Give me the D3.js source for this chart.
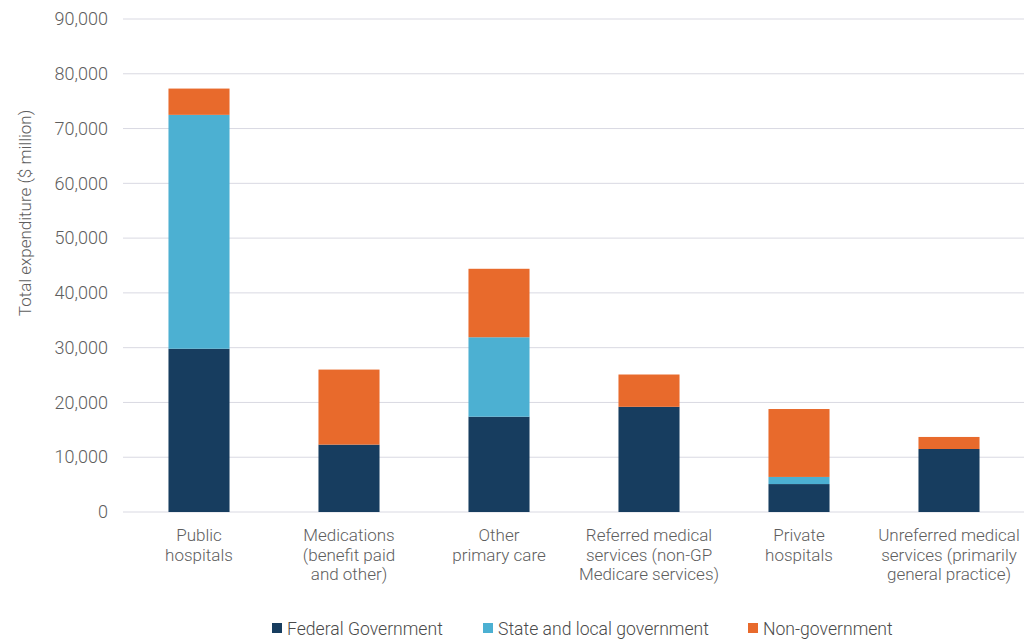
<!DOCTYPE html>
<html><head><meta charset="utf-8">
<script src="https://cdn.jsdelivr.net/npm/d3@7"></script>
<style>
body{margin:0;background:#fff;}
text{font-family:Roboto,"Noto Sans",sans-serif;font-weight:300;}
</style></head>
<body><svg id="c" width="1024" height="639"></svg>
<script>
const categories = [
  ["Public","hospitals"],
  ["Medications","(benefit paid","and other)"],
  ["Other","primary care"],
  ["Referred medical","services (non-GP","Medicare services)"],
  ["Private","hospitals"],
  ["Unreferred medical","services (primarily","general practice)"]
];
const federal = [29800, 12300, 17400, 19200, 5100, 11500];
const stateLocal = [42700, 0, 14500, 0, 1300, 0];
const nonGov = [4800, 13700, 12500, 5900, 12400, 2200];
const seriesNames = ["Federal Government","State and local government","Non-government"];
const seriesColors = ["#173d5f","#4cb0d2","#e86a2c"];
const yTicks = [0,10000,20000,30000,40000,50000,60000,70000,80000,90000];

const svg = d3.select("#c");
const keys = ["federal","stateLocal","nonGov"];
const rows = categories.map((c,i)=>({cat:i, federal:federal[i], stateLocal:stateLocal[i], nonGov:nonGov[i]}));
const stack = d3.stack().keys(keys)(rows);

const x = d3.scaleBand().domain(d3.range(categories.length)).range([124,1024]).paddingInner(0.593).paddingOuter(0.2965);
const y = d3.scaleLinear().domain([0,90000]).range([512,19]);

// gridlines
svg.append("g").selectAll("line").data(yTicks).join("line")
  .attr("x1",123).attr("x2",1024)
  .attr("y1",d=>y(d)).attr("y2",d=>y(d))
  .attr("stroke","#d9d9e2").attr("stroke-width",1);

// y axis
const yAxis = d3.axisLeft(y).tickValues(yTicks).tickFormat(d3.format(",")).tickSize(0).tickPadding(0);
const ga = svg.append("g").attr("transform","translate(108,0)").call(yAxis);
ga.select(".domain").remove();
ga.selectAll("text").attr("font-size",18).attr("fill","#5e5e5e")
  .attr("font-family","Roboto,sans-serif").attr("font-weight",300);

// bars
svg.append("g").selectAll("g").data(stack).join("g")
  .attr("fill",(d,i)=>seriesColors[i])
  .selectAll("rect").data(d=>d).join("rect")
  .attr("x",d=>x(d.data.cat))
  .attr("width",x.bandwidth())
  .attr("y",d=>y(d[1]))
  .attr("height",d=>y(d[0])-y(d[1]));

// x labels
const xl = svg.append("g").selectAll("text").data(categories).join("text")
  .attr("text-anchor","middle")
  .attr("font-size",17).attr("fill","#5e5e5e")
  .attr("x",(d,i)=>x(i)+x.bandwidth()/2)
  .attr("y",541);
xl.selectAll("tspan").data(d=>d).join("tspan")
  .attr("x",function(){return this.parentNode.getAttribute("x");})
  .attr("dy",(d,i)=>i===0?0:19.5)
  .text(d=>d);

// y title
svg.append("text").attr("transform","translate(31,213) rotate(-90)")
  .attr("text-anchor","middle").attr("font-size",17).attr("fill","#5e5e5e")
  .text("Total expenditure ($ million)");

// legend
const legX = [272, 483, 748];
const lg = svg.append("g").selectAll("g").data(seriesNames).join("g")
  .attr("transform",(d,i)=>`translate(${legX[i]},0)`);
lg.append("rect").attr("x",0).attr("y",623).attr("width",10).attr("height",10)
  .attr("fill",(d,i)=>seriesColors[i]);
lg.append("text").attr("x",15).attr("y",635).attr("font-size",17.6).attr("fill","#4a4a4a").text(d=>d);
</script></body></html>
